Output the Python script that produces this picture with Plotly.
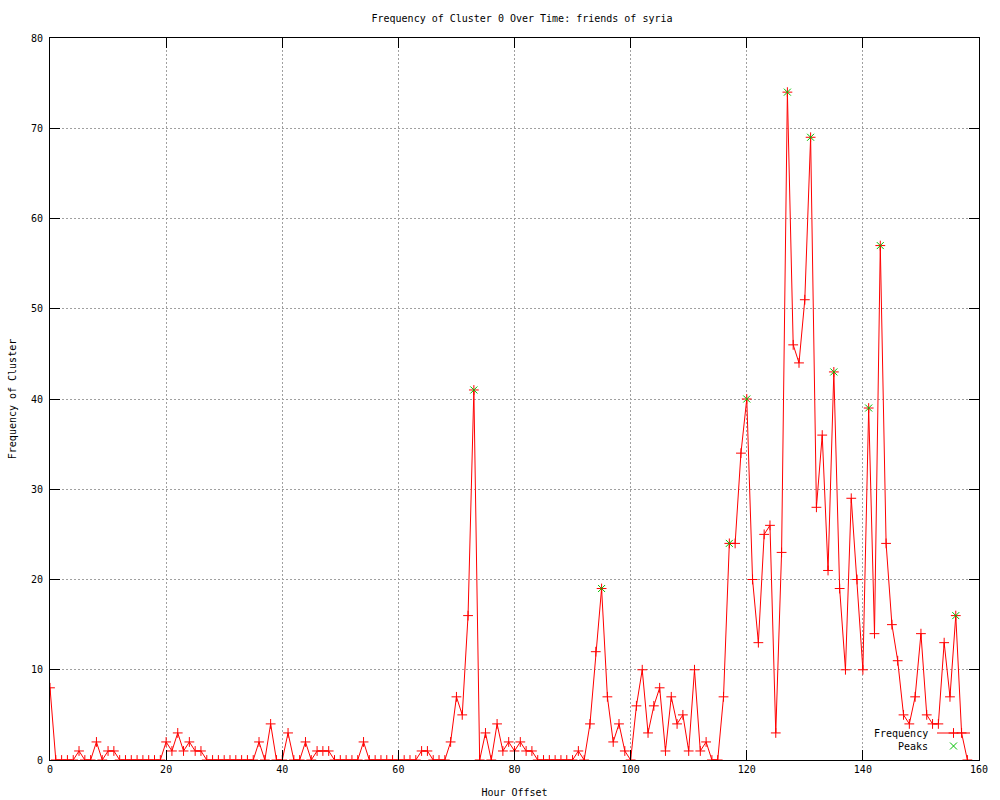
import plotly.graph_objects as go

hours = list(range(0, 159))
frequency = [
    8, 0, 0, 0, 0, 1, 0, 0, 2, 0,      # 0-9
    1, 1, 0, 0, 0, 0, 0, 0, 0, 0,      # 10-19
    2, 1, 3, 1, 2, 1, 1, 0, 0, 0,      # 20-29
    0, 0, 0, 0, 0, 0, 2, 0, 4, 0,      # 30-39
    0, 3, 0, 0, 2, 0, 1, 1, 1, 0,      # 40-49
    0, 0, 0, 0, 2, 0, 0, 0, 0, 0,      # 50-59
    0, 0, 0, 0, 1, 1, 0, 0, 0, 2,      # 60-69
    7, 5, 16, 41, 0, 3, 0, 4, 1, 2,    # 70-79
    1, 2, 1, 1, 0, 0, 0, 0, 0, 0,      # 80-89
    0, 1, 0, 4, 12, 19, 7, 2, 4, 1,    # 90-99
    0, 6, 10, 3, 6, 8, 1, 7, 4, 5,     # 100-109
    1, 10, 1, 2, 0, 0, 7, 24, 24, 34,  # 110-119
    40, 20, 13, 25, 26, 3, 23, 74, 46, 44,  # 120-129
    51, 69, 28, 36, 21, 43, 19, 10, 29, 20,  # 130-139
    10, 39, 14, 57, 24, 15, 11, 5, 4, 7,     # 140-149
    14, 5, 4, 4, 13, 7, 16, 3, 0,            # 150-158
]
peak_hours = [73, 95, 117, 120, 127, 131, 135, 141, 143, 156]
peak_values = [frequency[h] for h in peak_hours]

title_text = "Frequency of Cluster 0 Over Time: friends of syria"
x_label = "Hour Offset"
y_label = "Frequency of Cluster"
series_names = ["Frequency", "Peaks"]

RED = "#ff0000"
GREEN = "#00c000"
FONT = "DejaVu Sans Mono"

fig = go.Figure()

fig.add_trace(go.Scatter(
    x=hours, y=frequency, mode="lines+markers", name=series_names[0],
    line=dict(color=RED, width=1),
    marker=dict(symbol="cross-thin-open", size=7, color=RED,
                line=dict(color=RED, width=1)),
    showlegend=False,
))
fig.add_trace(go.Scatter(
    x=peak_hours, y=peak_values, mode="markers", name=series_names[1],
    marker=dict(symbol="x-thin-open", size=7, color=GREEN,
                line=dict(color=GREEN, width=1)),
    showlegend=False,
))

# gnuplot-style key (text left of sample), drawn on a pixel-unit overlay axis
key_x_text = 930
key_x0, key_x1 = 937, 970
key_rows = [733, 746]
fig.add_trace(go.Scatter(
    x=[key_x0, key_x1], y=[key_rows[0], key_rows[0]], mode="lines",
    line=dict(color=RED, width=1), xaxis="x2", yaxis="y2",
    showlegend=False, hoverinfo="skip",
))
fig.add_trace(go.Scatter(
    x=[(key_x0 + key_x1) / 2], y=[key_rows[0]], mode="markers",
    marker=dict(symbol="cross-thin-open", size=7, color=RED,
                line=dict(color=RED, width=1)),
    xaxis="x2", yaxis="y2", showlegend=False, hoverinfo="skip",
))
fig.add_trace(go.Scatter(
    x=[(key_x0 + key_x1) / 2], y=[key_rows[1]], mode="markers",
    marker=dict(symbol="x-thin-open", size=7, color=GREEN,
                line=dict(color=GREEN, width=1)),
    xaxis="x2", yaxis="y2", showlegend=False, hoverinfo="skip",
))
for name, yy in zip(series_names, key_rows):
    fig.add_annotation(x=key_x_text, y=yy, xref="x2", yref="y2", text=name,
                       showarrow=False, xanchor="right", yanchor="middle",
                       font=dict(family=FONT, size=10, color="black"))

axis_common = dict(
    showgrid=True, gridcolor="#a0a0a0", gridwidth=1, griddash="2px,2px",
    showline=True, linecolor="black", linewidth=1, mirror="ticks",
    ticks="inside", ticklen=10, tickcolor="black", tickwidth=1,
    zeroline=False, automargin=False,
    tickfont=dict(family=FONT, size=10, color="black"),
)

fig.update_layout(
    width=1000, height=800,
    margin=dict(l=50, r=21, t=38, b=40),
    paper_bgcolor="white", plot_bgcolor="white",
    title=dict(text=title_text, x=(522 - 50) / 929, xref="paper", xanchor="center",
               y=1 - 18 / 800, yref="container", yanchor="middle",
               font=dict(family=FONT, size=10, color="black")),
    xaxis=dict(range=[0, 160], tick0=0, dtick=20,
               title=dict(text=x_label, standoff=14,
                          font=dict(family=FONT, size=10, color="black")),
               **axis_common),
    yaxis=dict(range=[0, 80], tick0=0, dtick=10, ticklabelstandoff=4,
               title=dict(text=y_label, standoff=12,
                          font=dict(family=FONT, size=10, color="black")),
               **axis_common),
    xaxis2=dict(overlaying="x", range=[50, 979], visible=False, anchor="y2"),
    yaxis2=dict(overlaying="y", range=[760, 38], visible=False, anchor="x2"),
    showlegend=False,
)

fig.write_html("out.html",
               config={"displayModeBar": False},
               post_script="document.body.style.margin='0';document.body.style.overflow='hidden';")
